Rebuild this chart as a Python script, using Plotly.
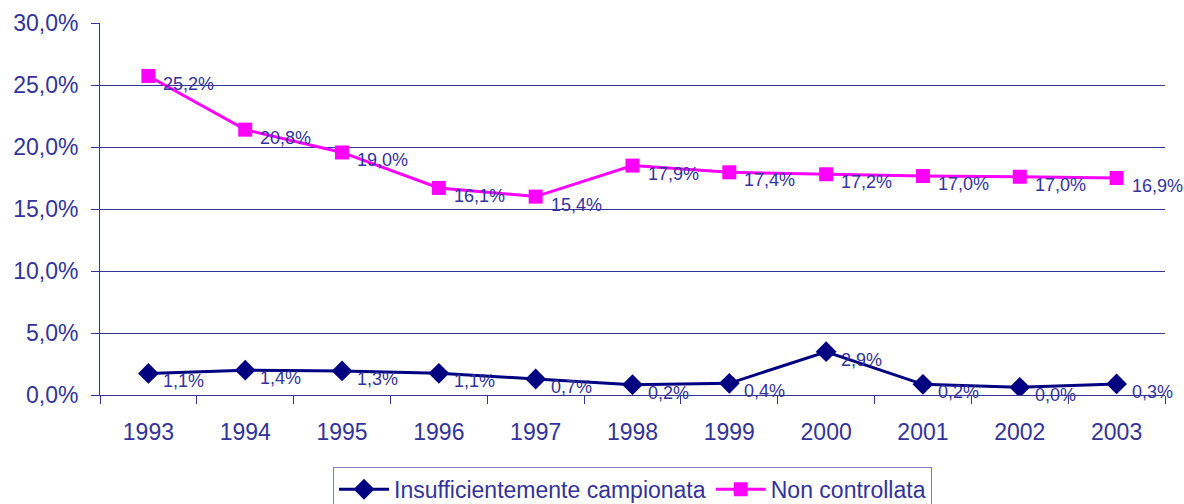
import plotly.graph_objects as go

years = ["1993", "1994", "1995", "1996", "1997", "1998", "1999", "2000", "2001", "2002", "2003"]

# Marker positions (percent)
insuff_vals = [1.74, 2.0, 1.94, 1.75, 1.29, 0.83, 0.94, 3.49, 0.86, 0.62, 0.89]
nonctrl_vals = [25.73, 21.4, 19.56, 16.7, 16.0, 18.5, 17.96, 17.8, 17.66, 17.6, 17.5]

# Data label texts as printed on the chart
insuff_labels = ["1,1%", "1,4%", "1,3%", "1,1%", "0,7%", "0,2%", "0,4%", "2,9%", "0,2%", "0,0%", "0,3%"]
nonctrl_labels = ["25,2%", "20,8%", "19,0%", "16,1%", "15,4%", "17,9%", "17,4%", "17,2%", "17,0%", "17,0%", "16,9%"]

series_names = ["Insufficientemente campionata", "Non controllata"]

TEXT = "#333399"
NAVY = "#000080"
PINK = "#FF00FF"
FONT = "Liberation Sans, Arial, sans-serif"

fig = go.Figure()
fig.add_trace(go.Scatter(
    x=years, y=insuff_vals, name=series_names[0], mode="lines+markers",
    line=dict(color=NAVY, width=3),
    marker=dict(symbol="diamond", size=16, color=NAVY),
))
fig.add_trace(go.Scatter(
    x=years, y=nonctrl_vals, name=series_names[1], mode="lines+markers",
    line=dict(color=PINK, width=3),
    marker=dict(symbol="square", size=14, color=PINK),
))

annotations = []
for vals, labs in ((insuff_vals, insuff_labels), (nonctrl_vals, nonctrl_labels)):
    for i, (v, t) in enumerate(zip(vals, labs)):
        annotations.append(dict(
            x=i, y=v, xref="x", yref="y", text=t, showarrow=False,
            xanchor="left", yanchor="middle",
            xshift=13, yshift=-8, font=dict(family=FONT, size=18, color=TEXT),
        ))

fig.update_layout(
    width=1184, height=504,
    margin=dict(l=100, r=19, t=23, b=109, autoexpand=False),
    paper_bgcolor="white", plot_bgcolor="white",
    font=dict(family=FONT, color=TEXT),
    separators=", ",
    showlegend=True,
    legend=dict(
        orientation="h", x=0.5, xanchor="center", y=-0.193, yanchor="top",
        font=dict(family=FONT, size=23, color=TEXT),
        bordercolor="#8080C0", borderwidth=1, bgcolor="white",
        itemwidth=50, tracegroupgap=0,
    ),
    annotations=annotations,
)
fig.update_xaxes(
    type="category", tickson="boundaries", ticks="outside", ticklen=8,
    tickcolor=TEXT, showline=True, linecolor=TEXT, linewidth=1,
    showgrid=False, tickfont=dict(family=FONT, size=23, color=TEXT),
    ticklabelstandoff=16, range=[-0.5, 10.5],
)
fig.update_yaxes(
    range=[0, 30], dtick=5, tickformat=".1f", ticksuffix="%",
    ticks="outside", ticklen=8, tickcolor=TEXT,
    showline=True, linecolor=TEXT, linewidth=1,
    showgrid=True, gridcolor=TEXT, gridwidth=1, zeroline=False,
    tickfont=dict(family=FONT, size=23, color=TEXT),
    ticklabelstandoff=8,
)

fig.write_html(
    "out.html",
    config={"displayModeBar": False},
    post_script="document.body.style.margin='0';document.body.style.overflow='hidden';",
)
